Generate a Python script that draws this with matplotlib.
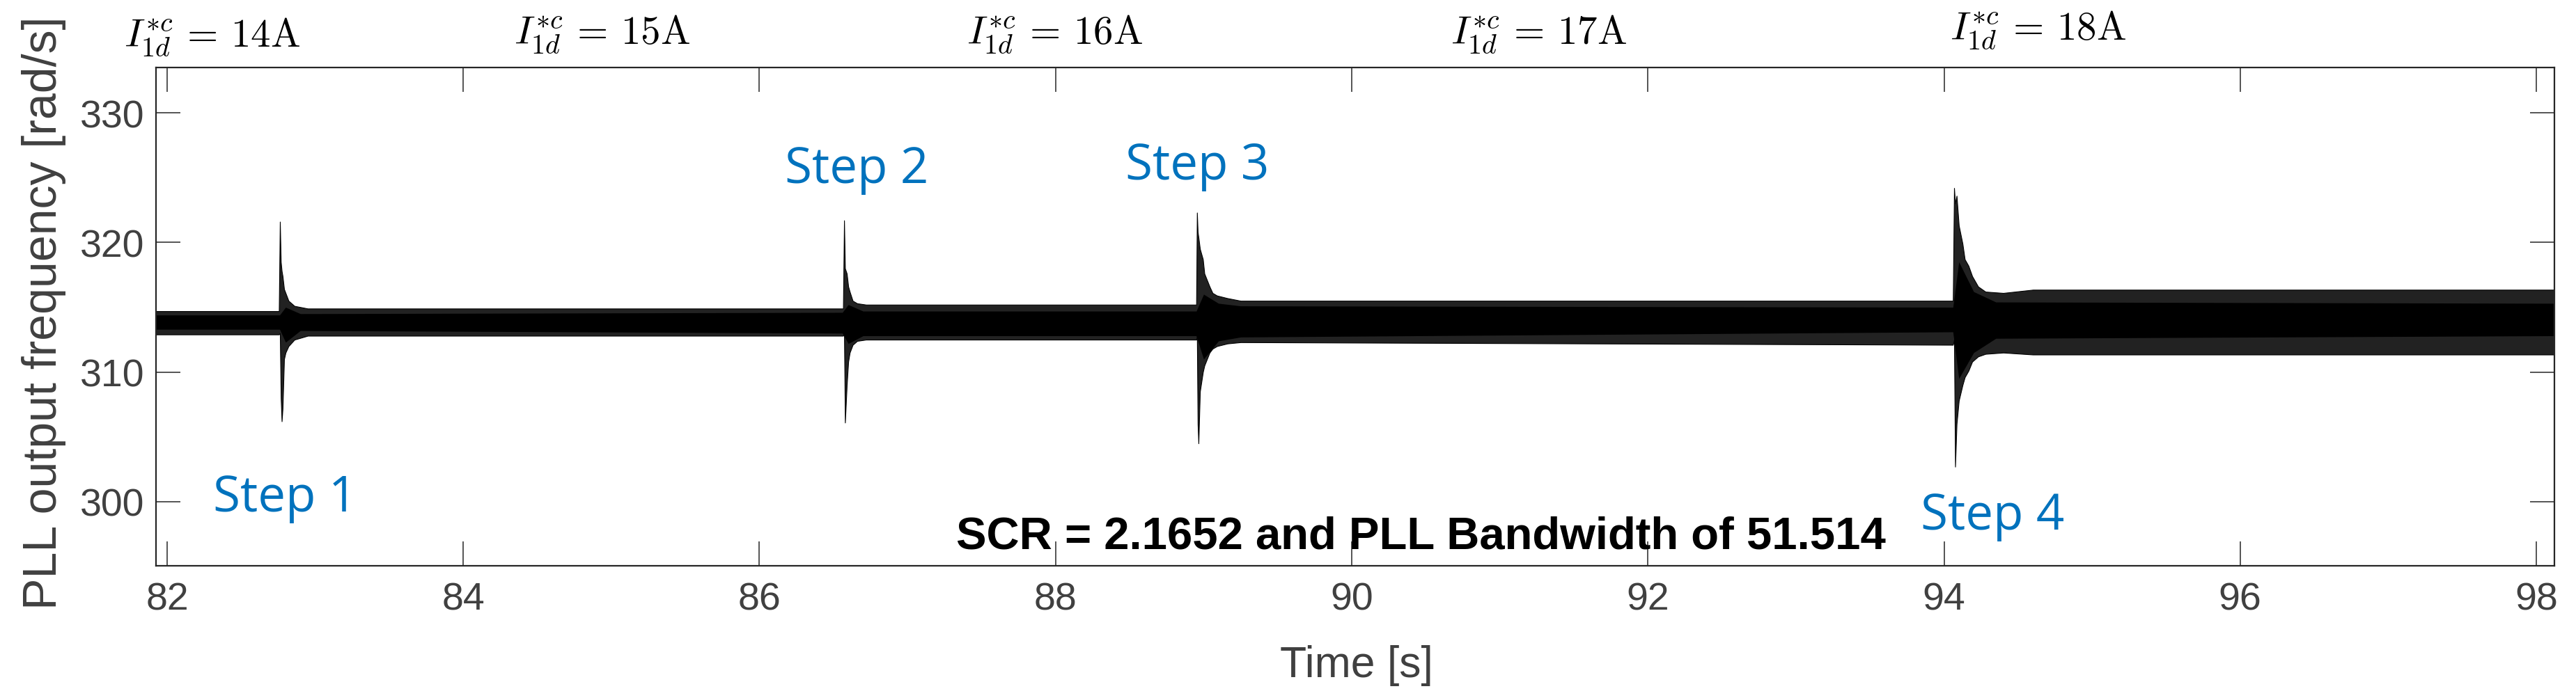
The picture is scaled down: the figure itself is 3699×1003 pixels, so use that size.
import numpy as np
import matplotlib
matplotlib.use("Agg")
from matplotlib import pyplot as plt

# outer envelope of the PLL frequency trace (tips of the oscillation)
t_env = [81.92, 82.40, 82.755, 82.762, 82.768, 82.774, 82.780, 82.790, 82.800, 82.820, 82.860, 82.950,
         84.50, 86.565, 86.572, 86.578, 86.590, 86.600, 86.610, 86.630, 86.660, 86.720,
         88.950, 88.955, 88.960, 88.965, 88.975, 88.995, 89.005, 89.040, 89.060, 89.090, 89.160, 89.250,
         94.060, 94.068, 94.075, 94.085, 94.100, 94.125, 94.140, 94.165, 94.190, 94.230, 94.280, 94.400,
         94.600, 98.13]
hi_env = [314.7, 314.7, 314.7, 321.6, 318.5, 317.8, 317.4, 316.4, 316.1, 315.5, 315.1, 314.9,
          314.9, 314.9, 321.7, 318.0, 317.6, 316.6, 316.2, 315.5, 315.3, 315.2,
          315.2, 322.3, 320.8, 320.4, 319.5, 318.7, 317.6, 316.6, 316.1, 315.9, 315.7, 315.5,
          315.5, 324.2, 323.0, 323.6, 321.3, 319.9, 318.7, 318.2, 317.4, 316.6, 316.2, 316.1,
          316.35, 316.35]
lo_env = [312.9, 312.9, 312.9, 313.0, 308.0, 306.2, 307.2, 311.0, 311.5, 312.0, 312.5, 312.8,
          312.8, 312.8, 313.0, 306.1, 309.0, 310.8, 311.5, 312.1, 312.4, 312.5,
          312.5, 312.8, 306.0, 304.5, 308.5, 310.0, 310.5, 311.5, 311.8, 312.0, 312.2, 312.3,
          312.1, 312.5, 302.7, 306.0, 307.8, 309.0, 309.6, 310.1, 310.8, 311.2, 311.4, 311.5,
          311.35, 311.35]

# solid core of the band
t_core = [81.92, 82.76, 82.80, 82.90, 86.56, 86.60, 86.70, 88.95, 89.00, 89.10, 89.25,
          94.06, 94.10, 94.20, 94.35, 98.13]
core_hi = [314.4, 314.4, 315.0, 314.5, 314.6, 315.2, 314.7, 314.7, 316.0, 315.3, 315.1,
           315.0, 318.5, 316.2, 315.4, 315.3]
core_lo = [313.3, 313.3, 312.3, 313.2, 313.0, 312.2, 312.8, 312.8, 311.0, 312.4, 312.7,
           313.1, 309.5, 311.5, 312.6, 312.8]

current_labels = ['14', '15', '16', '17', '18']
current_x = [81.71, 84.34, 87.40, 90.67, 94.04]
current_y = [335.16, 335.38, 335.38, 335.38, 335.70]

step_labels = ['Step 1', 'Step 2', 'Step 3', 'Step 4']
step_x = [82.31, 86.17, 88.47, 93.84]
step_y = [299.3, 324.62, 324.89, 297.9]

x_ticks = np.arange(82, 99, 2)
y_ticks = [300, 310, 320, 330]

plt.rcParams['mathtext.fontset'] = 'cm'
plt.rcParams['font.family'] = ['Liberation Sans', 'DejaVu Sans']

W, H = 3699, 1004
fig = plt.figure(figsize=(W / 100, H / 100), dpi=100)
ax = fig.add_axes([224 / W, 1 - 814 / H, (3668 - 224) / W, (814 - 98) / H])

ax.fill_between(t_env, lo_env, hi_env, color='#222222', lw=0.8, edgecolor='black')
ax.fill_between(t_core, core_lo, core_hi, color='black', lw=0)

ax.set_xlim(81.925, 98.122)
ax.set_ylim(295.06, 333.49)
ax.set_xticks(x_ticks)
ax.set_yticks(y_ticks)

edge = '#262626'
for s in ax.spines.values():
    s.set_linewidth(1.6)
    s.set_color(edge)
ax.tick_params(direction='in', length=25, width=1.1, color=edge, labelsize=40,
               labelcolor='#404040', top=True, right=True)
ax.tick_params(axis='x', pad=16)
ax.tick_params(axis='y', pad=12)

fig.text(63 / W, 1 - 450 / H, 'PLL output frequency [rad/s]', rotation=90,
         ha='center', va='center', fontsize=49, color='#404040')
fig.text(1948 / W, 1 - 973 / H, 'Time [s]', ha='center', va='baseline',
         fontsize=45, color='#404040')

for lab, x, y in zip(current_labels, current_x, current_y):
    ax.text(x, y, r'$I_{1d}^{*c}\,=\,' + lab + r'\mathrm{A}$', fontsize=41,
            ha='left', va='baseline', clip_on=False)

for lab, x, y in zip(step_labels, step_x, step_y):
    ax.text(x, y, lab, fontsize=51, family='Open Sans', color='#0072BD',
            ha='left', va='baseline')

ax.text(87.33, 296.45, 'SCR = 2.1652 and PLL Bandwidth of 51.514', fontsize=47,
        fontweight='bold', color='black', ha='left', va='baseline')

fig.savefig('out.png', dpi=100)
